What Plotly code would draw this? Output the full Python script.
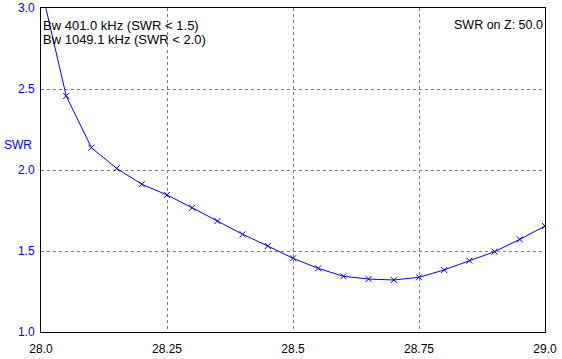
import plotly.graph_objects as go

freq_mhz = [28.00, 28.05, 28.10, 28.15, 28.20, 28.25, 28.30, 28.35, 28.40, 28.45, 28.50,
            28.55, 28.60, 28.65, 28.70, 28.75, 28.80, 28.85, 28.90, 28.95, 29.00]
swr = [3.13, 2.457, 2.138, 2.010, 1.912, 1.846, 1.767, 1.685, 1.603, 1.531, 1.455,
       1.393, 1.344, 1.327, 1.321, 1.338, 1.383, 1.440, 1.496, 1.572, 1.654]

x_ticks = [28.0, 28.25, 28.5, 28.75, 29.0]
x_tick_labels = ["28.0", "28.25", "28.5", "28.75", "29.0"]
y_ticks = [1.0, 1.5, 2.0, 2.5, 3.0]
y_tick_labels = ["1.0", "1.5", "2.0", "2.5", "3.0"]

bw_lines = ["Bw 401.0 kHz (SWR < 1.5)", "Bw 1049.1 kHz (SWR < 2.0)"]
z_text = "SWR on Z: 50.0"
y_title = "SWR"

FONT = "Liberation Sans, Arial, sans-serif"
BLUE = "#0000FF"

fig = go.Figure()
fig.add_trace(go.Scatter(
    x=freq_mhz, y=swr, mode="lines+markers",
    line=dict(color=BLUE, width=1),
    marker=dict(symbol="x-thin", size=6, color=BLUE, line=dict(color=BLUE, width=1)),
    showlegend=False, hoverinfo="skip",
))

fig.update_layout(
    width=562, height=359,
    margin=dict(l=41, r=17, t=8, b=27, pad=0, autoexpand=False),
    paper_bgcolor="white", plot_bgcolor="white",
    font=dict(family=FONT, size=12, color="black"),
    showlegend=False,
)

fig.update_xaxes(
    range=[28.0, 29.0], tickvals=x_ticks, ticktext=x_tick_labels,
    showgrid=True, gridcolor="#808080", griddash="3px,3px", gridwidth=1,
    showline=True, linecolor="black", linewidth=1, mirror=True,
    ticks="", zeroline=False, automargin=False,
    tickfont=dict(family=FONT, size=12, color="black"),
    ticklabelstandoff=6,
)
fig.update_yaxes(
    range=[1.0, 3.0], tickvals=y_ticks, ticktext=y_tick_labels,
    showgrid=True, gridcolor="#808080", griddash="3px,3px", gridwidth=1,
    showline=True, linecolor="black", linewidth=1, mirror=True,
    ticks="", zeroline=False, automargin=False,
    tickfont=dict(family=FONT, size=12, color=BLUE),
    ticklabelstandoff=3,
)

annotations = [
    dict(text=bw_lines[0], xref="paper", yref="y", x=0, y=2.895, xanchor="left", yanchor="middle",
         showarrow=False, font=dict(family=FONT, size=13, color="black")),
    dict(text=bw_lines[1], xref="paper", yref="y", x=0, y=2.803, xanchor="left", yanchor="middle",
         showarrow=False, font=dict(family=FONT, size=13, color="black")),
    dict(text=z_text, xref="paper", yref="y", x=1, y=2.895, xanchor="right", yanchor="middle",
         showarrow=False, font=dict(family=FONT, size=12.5, color="black")),
    dict(text=y_title, xref="paper", yref="y", x=-0.046, y=2.157, xanchor="center", yanchor="middle",
         showarrow=False, font=dict(family=FONT, size=12, color=BLUE)),
]
fig.update_layout(annotations=annotations)

fig.write_html("out.html", config={"displayModeBar": False},
               post_script="document.body.style.margin='0';document.body.style.overflow='hidden';")
